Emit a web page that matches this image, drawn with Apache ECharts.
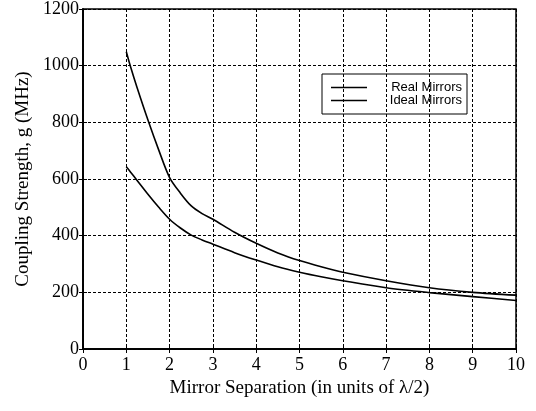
<!DOCTYPE html>
<html>
<head>
<meta charset="utf-8">
<script src="https://cdn.jsdelivr.net/npm/echarts@6/dist/echarts.min.js"></script>
<style>html,body{margin:0;padding:0;background:#fff;}#c{width:536px;height:411px;}</style>
</head>
<body>
<div id="c"></div>
<script>
const separation = [1, 1.1, 1.25, 1.5, 1.75, 2, 2.25, 2.5, 2.75, 3, 3.5, 4, 4.5, 5, 5.5, 6, 7, 8, 9, 10];
const idealMirrors = [1049, 995, 922, 808, 702, 605, 550, 505, 478, 458, 412, 373, 339, 312, 290, 271, 241, 216, 200, 190];
const realMirrors = [643, 624, 595, 546, 500, 458, 427, 402, 385, 370, 340, 314, 290, 271, 255, 241, 216, 199, 185, 171];
const seriesNames = ['Real Mirrors', 'Ideal Mirrors'];

const pair = (xs, ys) => xs.map((x, i) => [x, ys[i]]);
const serif = 'Liberation Serif';
const dash = {color: '#000', width: 1, type: [3, 2]};
const lineIcon = 'path://M0,0H36V1.5H0Z';

const chart = echarts.init(document.getElementById('c'));
chart.setOption({
  animation: false,
  backgroundColor: '#fff',
  grid: {left: 83, right: 20, top: 8, bottom: 62, show: true, borderColor: '#000', borderWidth: 1.5},
  legend: {
    left: 322, top: 74, orient: 'vertical',
    borderColor: '#000', borderWidth: 1,
    padding: [7, 5, 7, 9], itemGap: 0, itemWidth: 36, itemHeight: 11, itemTextGap: 6,
    symbolKeepAspect: true,
    data: seriesNames.map(n => ({name: n, icon: lineIcon})),
    itemStyle: {color: '#000'},
    formatter: n => '{t|' + n + '}',
    textStyle: {rich: {t: {width: 90, align: 'right', fontFamily: 'Liberation Sans', fontSize: 13, lineHeight: 11, color: '#000'}}}
  },
  xAxis: [{
    type: 'value', min: 0, max: 10, interval: 1,
    name: 'Mirror Separation (in units of λ/2)', nameLocation: 'middle', nameGap: 23,
    nameTextStyle: {fontFamily: serif, fontSize: 19, color: '#000'},
    axisLine: {show: true, lineStyle: {color: '#000', width: 1.5}},
    axisTick: {inside: true, length: 4, lineStyle: {color: '#000'}},
    axisLabel: {fontFamily: serif, fontSize: 18, color: '#000', margin: 7},
    splitLine: {show: true, lineStyle: dash}
  }, {
    type: 'value', min: 0, max: 10, interval: 1, position: 'top',
    axisLine: {show: true, lineStyle: {color: '#000', width: 1.5}},
    axisTick: {inside: true, length: 4, lineStyle: {color: '#000'}},
    axisLabel: {show: false}, splitLine: {show: false}
  }],
  yAxis: [{
    type: 'value', min: 0, max: 1200, interval: 200,
    name: 'Coupling Strength, g (MHz)', nameLocation: 'middle', nameGap: 46,
    nameTextStyle: {fontFamily: serif, fontSize: 19, color: '#000'},
    axisLine: {show: true, lineStyle: {color: '#000', width: 1.5}},
    axisTick: {inside: true, length: 4, lineStyle: {color: '#000'}},
    axisLabel: {fontFamily: serif, fontSize: 18, color: '#000', margin: 4, formatter: v => String(v)},
    splitLine: {show: true, lineStyle: dash}
  }, {
    type: 'value', min: 0, max: 1200, interval: 200, position: 'right',
    axisLine: {show: true, lineStyle: {color: '#000', width: 1.5}},
    axisTick: {inside: true, length: 4, lineStyle: {color: '#000'}},
    axisLabel: {show: false}, splitLine: {show: false}
  }],
  series: [{
    name: seriesNames[0], type: 'line', symbol: 'none', smooth: 0.3,
    lineStyle: {color: '#000', width: 1.6}, itemStyle: {color: '#000'},
    data: pair(separation, realMirrors)
  }, {
    name: seriesNames[1], type: 'line', symbol: 'none', smooth: 0.3,
    lineStyle: {color: '#000', width: 1.6}, itemStyle: {color: '#000'},
    data: pair(separation, idealMirrors)
  }]
});
</script>
</body>
</html>
